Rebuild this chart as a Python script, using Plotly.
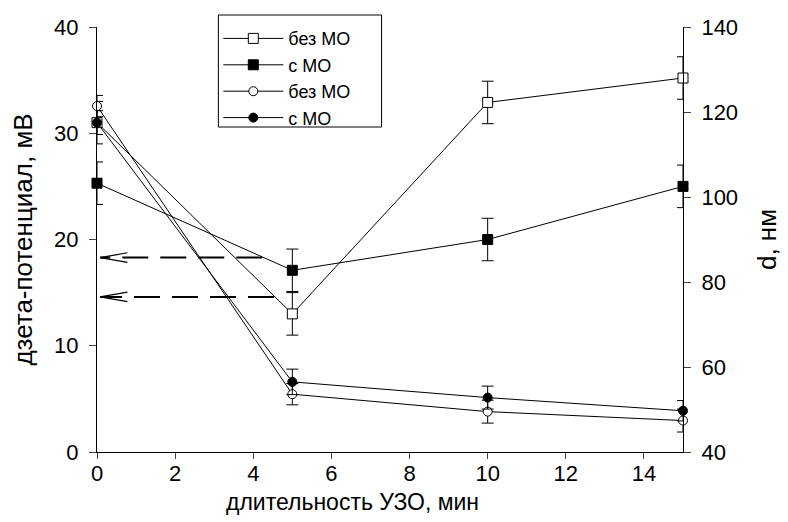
import plotly.graph_objects as go

# ---- data ----
t_min = [0, 5, 10, 15]

# zeta potential, mV (left axis)
zeta_no_mo = [31.0, 13.0, 32.9, 35.2]
zeta_no_mo_err = [2.0, 2.0, 2.0, 2.0]
zeta_mo = [25.3, 17.1, 20.0, 25.0]
zeta_mo_err = [2.0, 2.0, 2.0, 2.0]

# particle size d, nm (right axis)
d_no_mo = [121.4, 53.6, 49.5, 47.4]
d_no_mo_err = [2.5, 2.5, 2.7, 2.7]
d_mo = [117.5, 56.5, 52.8, 49.7]
d_mo_err = [2.8, 3.0, 2.7, 2.4]

x_ticks = [0, 2, 4, 6, 8, 10, 12, 14]
left_ticks = [0, 10, 20, 30, 40]
right_ticks = [40, 60, 80, 100, 120, 140]

# arrows: (start x, end x, y on left axis)
arrows = [(4.23, 0.08, 18.3), (4.53, 0.08, 14.6)]

FONT = "Liberation Sans, Arial, sans-serif"

fig = go.Figure()


def add(x, y, err, name, symbol, fill, yaxis):
    fig.add_trace(go.Scatter(
        x=x, y=y, name=name, mode="lines+markers", yaxis=yaxis,
        line=dict(color="black", width=1),
        marker=dict(symbol=symbol, size=10 if "square" in symbol else 9,
                    color=fill, line=dict(color="black", width=1)),
        error_y=dict(type="data", array=err, visible=True,
                     color="black", thickness=1, width=6),
        cliponaxis=False,
    ))


add(t_min, zeta_no_mo, zeta_no_mo_err, "без МО", "square", "white", "y")
add(t_min, zeta_mo, zeta_mo_err, "с МО", "square", "black", "y")
add(t_min, d_no_mo, d_no_mo_err, "без МО", "circle", "white", "y2")
add(t_min, d_mo, d_mo_err, "с МО", "circle", "black", "y2")

shapes = []
for x0, x1, y in arrows:
    shapes.append(dict(type="line", xref="x", yref="y", x0=x0, x1=x1, y0=y, y1=y,
                       line=dict(color="black", width=2, dash="26px,12px")))
    shapes.append(dict(type="line", xref="x", yref="y", x0=x1, x1=x1 + 0.7, y0=y, y1=y + 0.45,
                       line=dict(color="black", width=1.2)))
    shapes.append(dict(type="line", xref="x", yref="y", x0=x1, x1=x1 + 0.7, y0=y, y1=y - 0.45,
                       line=dict(color="black", width=1.2)))

# legend frame
shapes.append(dict(type="rect", xref="paper", yref="paper",
                   x0=0.2071, x1=0.4856, y0=0.7647, y1=1.0282,
                   line=dict(color="black", width=1), fillcolor="white", layer="above"))

fig.update_layout(
    width=788, height=522,
    margin=dict(l=97, r=102, t=27, b=70),
    paper_bgcolor="white", plot_bgcolor="white",
    font=dict(family=FONT, size=22, color="black"),
    showlegend=True,
    legend=dict(x=0.207, y=1.016, xanchor="left", yanchor="top",
                borderwidth=0, bgcolor="rgba(0,0,0,0)",
                font=dict(size=18), tracegroupgap=0, itemwidth=60),
    xaxis=dict(range=[0, 15], tickvals=x_ticks, ticks="outside", ticklen=6,
               ticklabelstandoff=-4,
               showline=True, linecolor="black", linewidth=1, showgrid=False,
               zeroline=False, tickfont=dict(size=22)),
    yaxis=dict(range=[0, 40], tickvals=left_ticks, ticks="outside", ticklen=7,
               ticklabelstandoff=6,
               showline=True, linecolor="black", linewidth=1, showgrid=False,
               zeroline=False, tickfont=dict(size=22),
               title=dict(text="дзета-потенциал, мВ", font=dict(size=26), standoff=14)),
    yaxis2=dict(range=[40, 140], tickvals=right_ticks, ticks="outside", ticklen=7,
                ticklabelstandoff=6,
                overlaying="y", side="right",
                showline=True, linecolor="black", linewidth=1, showgrid=False,
                zeroline=False, tickfont=dict(size=22),
                title=dict(text="d, нм", font=dict(size=26), standoff=20)),
    shapes=shapes,
    annotations=[dict(text="длительность УЗО, мин", xref="paper", yref="paper",
                      x=0.436, y=-0.118, xanchor="center", yanchor="middle",
                      showarrow=False, font=dict(size=23))],
)

fig.write_html("out.html")
